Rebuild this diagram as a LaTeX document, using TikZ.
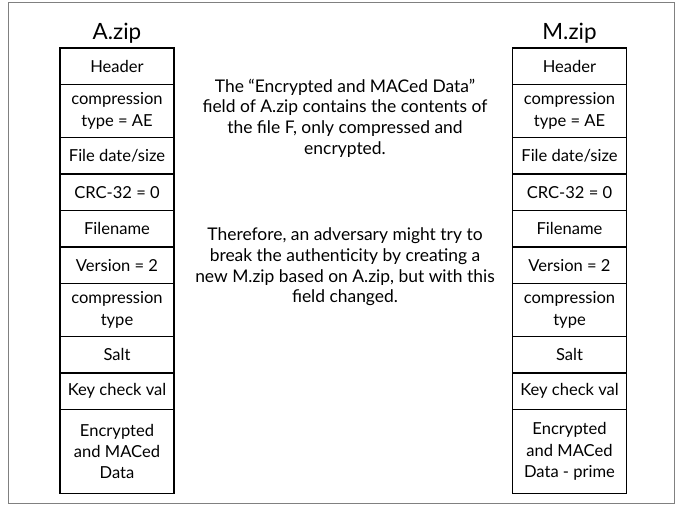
\documentclass[tikz,border=0pt]{standalone}
\usepackage{fontspec}
\setmainfont{Lato}
% one column of zip fields: #1 name prefix, #2 centre x, #3 title, #4 last field
\newcommand\zipcolumn[4]{%
  \node[coltitle] (#1title) at (#2,40) {#3};
  \node[field,single] (#1hdr) at (#2,48) {Header};
  \node[field,double] (#1ctype) at (#1hdr.south) {compression\\type = AE};
  \node[field,single] (#1date) at (#1ctype.south) {File date/size};
  \node[field,single] (#1crc) at (#1date.south) {CRC-32 = 0};
  \node[field,single] (#1fname) at (#1crc.south) {Filename};
  \node[field,single] (#1ver) at (#1fname.south) {Version = 2};
  \node[field,double] (#1comp) at (#1ver.south) {compression\\type};
  \node[field,single] (#1salt) at (#1comp.south) {Salt};
  \node[field,single] (#1key) at (#1salt.south) {Key check val};
  \node[field,minimum height=84bp] (#1data) at (#1key.south) {#4};
}
\begin{document}
\begin{tikzpicture}[x=1bp,y=-1bp,
  field/.style={draw, line width=1.7bp, minimum width=114bp, inner sep=0pt,
    outer sep=0pt, anchor=north, align=center,
    font=\fontsize{16.6}{21.5}\selectfont},
  single/.style={minimum height=36.5bp},
  double/.style={minimum height=53bp},
  coltitle/.style={anchor=base, inner sep=0pt, font=\fontsize{22.5}{27}\selectfont},
  note/.style={align=center, inner sep=0pt, font=\fontsize{17.5}{20.7}\selectfont}]
\useasboundingbox (0,0) rectangle (683,506);
\draw[gray, line width=1bp] (8,3) rectangle (674,503);
\zipcolumn{a}{117}{A.zip}{Encrypted\\and MACed\\Data}
\zipcolumn{m}{569.5}{M.zip}{Encrypted\\and MACed\\Data - prime}
\node[note] (explain) at (345,118)
  {The “Encrypted and MACed Data”\\field of A.zip contains the contents of\\the file F, only compressed and\\encrypted.};
\node[note] (attack) at (345,267)
  {Therefore, an adversary might try to\\break the authenticity by creating a\\new M.zip based on A.zip, but with this\\field changed.};
\end{tikzpicture}
\end{document}
